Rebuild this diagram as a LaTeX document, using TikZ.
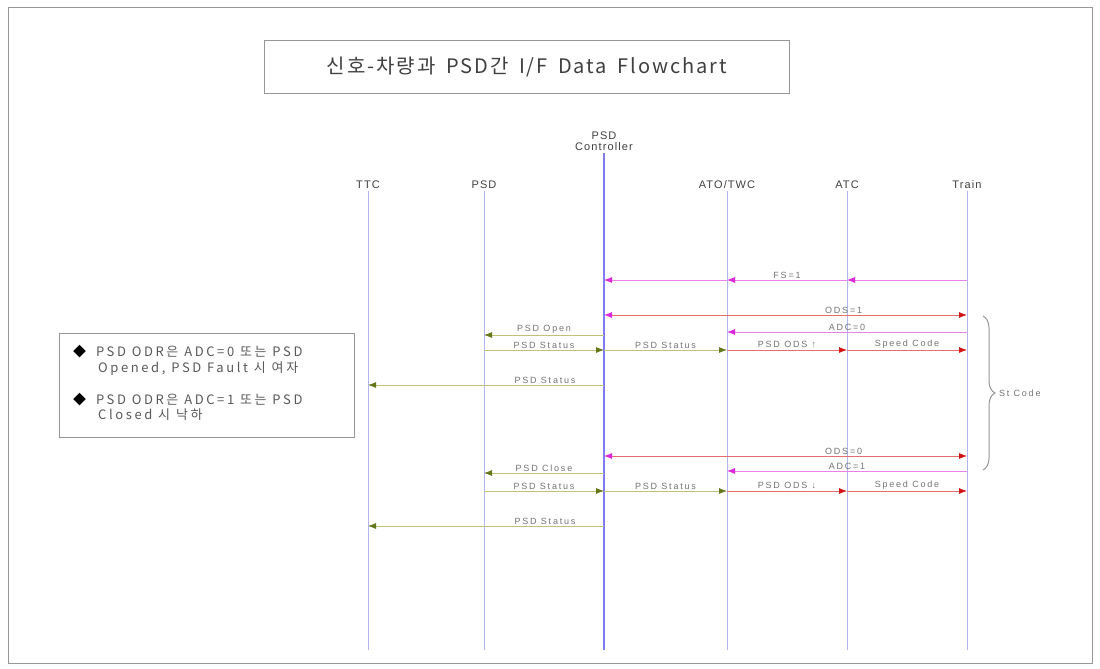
\documentclass[tikz,border=0pt]{standalone}
\usepackage{fontspec}
\setmainfont{Liberation Sans}
\newfontfamily\krfont[LetterSpace=10, WordSpace=1.6]{Noto Sans CJK KR}
\newfontfamily\notefont[LetterSpace=20]{Noto Sans CJK KR}
\newfontfamily\msgfont[LetterSpace=20]{Liberation Sans}
\newfontfamily\actorfont[LetterSpace=10]{Liberation Sans}
\newcommand{\gap}{\hspace{0.45em}}
\usetikzlibrary{arrows.meta, positioning, calc, decorations.pathreplacing}

\definecolor{lifeblue}{RGB}{180,180,238}
\definecolor{ctrlblue}{RGB}{125,125,240}
\definecolor{msgmag}{RGB}{220,40,220}
\definecolor{magline}{RGB}{232,130,232}
\definecolor{msgred}{RGB}{210,20,20}
\definecolor{redline}{RGB}{230,110,110}
\definecolor{msgolive}{RGB}{100,120,25}
\definecolor{oliveline}{RGB}{190,195,120}
\definecolor{framegray}{RGB}{150,150,150}

\tikzset{
  actor/.style={font=\actorfont\fontsize{11}{13}\selectfont, text=black!75, inner sep=2pt},
  lifeline/.style={lifeblue, line width=1pt},
  msglabel/.style={font=\msgfont\fontsize{9}{10}\selectfont, text=black!55, above, inner sep=1.5pt},
  magmsg/.style={magline, line width=0.8pt, -{Latex[length=8pt,width=6pt,color=msgmag]}},
  redmsg/.style={redline, line width=0.8pt, -{Latex[length=8pt,width=6pt,color=msgred]}},
  olivemsg/.style={oliveline, line width=0.8pt, -{Latex[length=8pt,width=6pt,color=msgolive]}},
  odsmsg/.style={redline, line width=0.8pt,
    {Latex[length=8pt,width=6pt,color=msgmag]}-{Latex[length=8pt,width=6pt,color=msgred]}},
  notebox/.style={draw=framegray, line width=1pt, minimum width=295pt, minimum height=104pt,
    inner xsep=0pt, text width=276pt, align=left,
    font=\notefont\fontsize{13}{15.5}\selectfont, text=black!65}
}

\begin{document}
\begin{tikzpicture}[x=1pt, y=-1pt, >=Stealth]
  \useasboundingbox (0,0) rectangle (1100,669);
  \fill[white] (0,0) rectangle (1100,669);
  % Frame and title
  \draw[framegray, line width=1pt] (8,8) rectangle (1092,663);
  \node[draw=framegray, line width=1pt, minimum width=525pt, minimum height=53pt,
        font=\krfont\fontsize{20}{23}\selectfont, text=black!75] (title) at (527,67)
    {신호-차량과 PSD간 I/F Data Flowchart};

  % Actors
  \node[actor] (ttc) at (368,185) {TTC};
  \node[actor] (psd) at (484,185) {PSD};
  \node[actor, align=center] (ctrl) at (604,141) {PSD\\[-2pt]Controller};
  \node[actor] (atotwc) at (727,185) {ATO/TWC};
  \node[actor] (atc) at (847,185) {ATC};
  \node[actor] (train) at (967,185) {Train};

  % Lifelines
  \coordinate (bottom) at (0,650);
  \foreach \a in {ttc, psd, atotwc, atc, train}
    \draw[lifeline] (\a.south) -- (\a |- bottom);
  \draw[ctrlblue, line width=2pt] (ctrl.south) -- (ctrl |- bottom);

  % Message rows
  \coordinate (fs) at (0,280);
  \coordinate (ods1) at (0,315);
  \coordinate (adc0) at (0,332);
  \coordinate (open) at (0,335);
  \coordinate (st1) at (0,350);
  \coordinate (ttc1) at (0,385);
  \coordinate (ods0) at (0,456);
  \coordinate (adc1) at (0,471);
  \coordinate (close) at (0,473);
  \coordinate (st2) at (0,491);
  \coordinate (ttc2) at (0,526);

  % FS
  \draw[magmsg] (train |- fs) -- (atc |- fs);
  \draw[magmsg] (atc |- fs) -- node[msglabel] {FS=1} (atotwc |- fs);
  \draw[magmsg] (atotwc |- fs) -- (ctrl |- fs);

  % Opening
  \draw[odsmsg] (ctrl |- ods1) -- node[msglabel, pos=0.66] {ODS=1} (train |- ods1);
  \draw[magmsg] (train |- adc0) -- node[msglabel] {ADC=0} (atotwc |- adc0);
  \draw[olivemsg] (ctrl |- open) -- node[msglabel] {PSD Open} (psd |- open);
  \draw[olivemsg] (psd |- st1) -- node[msglabel] {PSD Status} (ctrl |- st1);
  \draw[olivemsg] (ctrl |- st1) -- node[msglabel] {PSD Status} (atotwc |- st1);
  \draw[redmsg] (atotwc |- st1) -- node[msglabel] {PSD ODS ↑} (atc |- st1);
  \draw[redmsg] (atc |- st1) -- node[msglabel] {Speed Code} (train |- st1);
  \draw[olivemsg] (ctrl |- ttc1) -- node[msglabel, pos=0.25] {PSD Status} (ttc |- ttc1);

  % Closing
  \draw[odsmsg] (ctrl |- ods0) -- node[msglabel, pos=0.66] {ODS=0} (train |- ods0);
  \draw[magmsg] (train |- adc1) -- node[msglabel] {ADC=1} (atotwc |- adc1);
  \draw[olivemsg] (ctrl |- close) -- node[msglabel] {PSD Close} (psd |- close);
  \draw[olivemsg] (psd |- st2) -- node[msglabel] {PSD Status} (ctrl |- st2);
  \draw[olivemsg] (ctrl |- st2) -- node[msglabel] {PSD Status} (atotwc |- st2);
  \draw[redmsg] (atotwc |- st2) -- node[msglabel] {PSD ODS ↓} (atc |- st2);
  \draw[redmsg] (atc |- st2) -- node[msglabel] {Speed Code} (train |- st2);
  \draw[olivemsg] (ctrl |- ttc2) -- node[msglabel, pos=0.25] {PSD Status} (ttc |- ttc2);

  % Brace
  \coordinate (brtop) at (983,316);
  \coordinate (brbot) at (983,470);
  \draw[framegray, line width=1pt, decorate, decoration={brace, amplitude=12pt}]
    (brtop) -- (brbot) node[midway, right=14pt, msglabel, anchor=west] (stcode) {St Code};

  % Note box
  \node[notebox] (note) at (207,385) {%
    \begin{tabular}{@{\hspace{4pt}}l@{\hspace{10pt}}l@{}}
      \textcolor{black}{◆} & PSD\gap ODR은\gap ADC=0\gap 또는\gap PSD\\
        & \,Opened,\gap PSD\gap Fault\gap 시\gap 여자\\[16pt]
      \textcolor{black}{◆} & PSD\gap ODR은\gap ADC=1\gap 또는\gap PSD\\
        & \,Closed\gap 시\gap 낙하
    \end{tabular}};
\end{tikzpicture}
\end{document}
